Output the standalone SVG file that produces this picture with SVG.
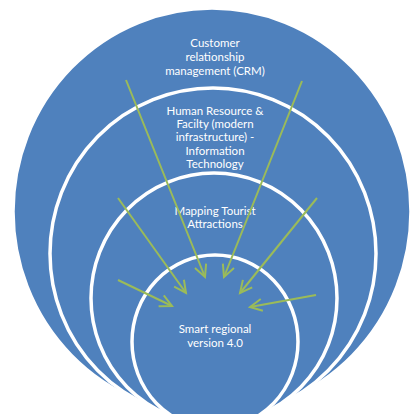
<svg xmlns="http://www.w3.org/2000/svg" width="411" height="414" viewBox="0 0 411 414">
<style>
.ring{fill:#4f81bd;stroke:#ffffff;stroke-width:3.5}
.lbl{fill:#ffffff;font-family:Lato,"Liberation Sans",sans-serif;font-size:11.5px;text-anchor:middle}
.arr{fill:none;stroke:#9bbb59;stroke-width:2;marker-end:url(#ah)}
</style>
<defs>
<marker id="ah" markerUnits="userSpaceOnUse" markerWidth="16" markerHeight="16" refX="13" refY="7" orient="auto">
<path d="M1,1 L13,7 L1,13" fill="none" stroke="#9bbb59" stroke-width="2"/>
</marker>
</defs>
<rect width="411" height="414" fill="#ffffff"/>
<g id="crm">
<ellipse class="ring" cx="212" cy="211.5" rx="199" ry="203.5"/>
<text class="lbl" x="215" y="47">Customer</text>
<text class="lbl" x="215" y="61">relationship</text>
<text class="lbl" x="215" y="75">management (CRM)</text>
</g>
<g id="hr">
<ellipse class="ring" cx="213" cy="253.5" rx="163" ry="165.5"/>
<text class="lbl" x="215" y="115">Human Resource &amp;</text>
<text class="lbl" x="215" y="128">Facilty (modern</text>
<text class="lbl" x="215" y="141">infrastructure) -</text>
<text class="lbl" x="215" y="155">Information</text>
<text class="lbl" x="215" y="168">Technology</text>
</g>
<g id="mapping">
<ellipse class="ring" cx="214" cy="298.3" rx="123" ry="125.3"/>
<text class="lbl" x="215" y="215">Mapping Tourist</text>
<text class="lbl" x="215" y="228">Attractions</text>
</g>
<g id="smart">
<ellipse class="ring" cx="215" cy="341.8" rx="83" ry="86.8"/>
<text class="lbl" x="215" y="333">Smart regional</text>
<text class="lbl" x="215" y="347">version 4.0</text>
</g>
<g id="connectors">
<line class="arr" x1="126" y1="80" x2="205" y2="277"/>
<line class="arr" x1="302" y1="81" x2="224" y2="277"/>
<line class="arr" x1="118" y1="198" x2="186" y2="293"/>
<line class="arr" x1="317" y1="198" x2="240" y2="293"/>
<line class="arr" x1="118" y1="280" x2="172" y2="306"/>
<line class="arr" x1="316" y1="295" x2="250" y2="307"/>
</g>
</svg>
